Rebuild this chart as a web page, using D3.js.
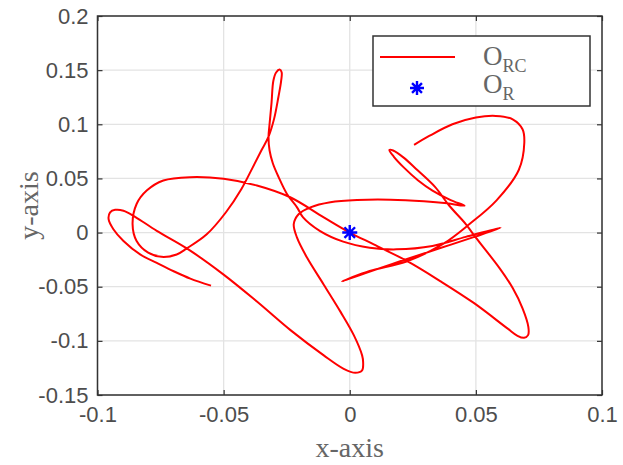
<!DOCTYPE html>
<html>
<head>
<meta charset="utf-8">
<script src="https://cdn.jsdelivr.net/npm/d3@7"></script>
<style>
  body { margin: 0; background: #fff; }
  svg { display: block; }
  .tick text { font-family: "Liberation Sans", Arial, sans-serif; font-size: 22px; fill: #4d4d4d; }
  .lbl { font-family: "Liberation Serif", "Times New Roman", serif; fill: #666; }
</style>
</head>
<body>
<div id="vis-container"></div>
<script>
// trajectory O_RC (x, y in axis units)
var trajX = [-0.0550,-0.0632,-0.0698,-0.0765,-0.0831,-0.0897,-0.0937,-0.0956,-0.0950,-0.0930,-0.0897,-0.0851,-0.0765,-0.0646,-0.0500,-0.0368,-0.0235,-0.0103,-0.0024,0.0022,0.0049,0.0053,
  0.0049,0.0016,-0.0037,-0.0103,-0.0169,-0.0209,-0.0222,-0.0202,-0.0156,-0.0077,0.0029,0.0161,0.0294,0.0386,0.0455,
  0.0400,0.0328,0.0270,0.0215,0.0175,0.0157,0.0172,0.0215,0.0262,0.0338,0.0394,0.0460,0.0500,0.0593,0.0646,0.0685,0.0708,0.0707,0.0691,0.0665,
  0.0625,0.0493,0.0360,0.0228,0.0095,0.0000,-0.0103,-0.0236,-0.0368,-0.0500,-0.0633,-0.0739,-0.0805,-0.0845,-0.0861,-0.0845,-0.0799,-0.0746,-0.0686,-0.0646,-0.0567,-0.0490,
  -0.0430,-0.0385,-0.0350,-0.0322,-0.0300,-0.0283,-0.0272,-0.0270,-0.0278,-0.0292,-0.0303,-0.0310,-0.0318,-0.0322,-0.0318,-0.0305,-0.0282,-0.0249,-0.0209,-0.0185,-0.0119,-0.0026,0.0079,0.0185,0.0328,0.0460,0.0598,
  0.0500,0.0350,0.0200,0.0060,-0.0030,0.0079,0.0225,0.0370,0.0476,0.0582,0.0670,0.0692,0.0685,0.0646,0.0579,0.0500,0.0407,0.0315,0.0255];
var trajY = [-0.0490,-0.0425,-0.0357,-0.0280,-0.0202,-0.0078,0.0031,0.0124,0.0186,0.0210,0.0202,0.0146,0.0016,-0.0146,-0.0388,-0.0637,-0.0901,-0.1134,-0.1258,-0.1295,-0.1273,-0.1196,
  -0.1134,-0.0947,-0.0730,-0.0481,-0.0233,-0.0047,0.0078,0.0171,0.0233,0.0280,0.0301,0.0304,0.0289,0.0270,0.0248,
  0.0300,0.0388,0.0484,0.0600,0.0700,0.0762,0.0758,0.0690,0.0590,0.0422,0.0250,0.0078,-0.0047,-0.0326,-0.0512,-0.0699,-0.0870,-0.0947,-0.0972,-0.0953,
  -0.0885,-0.0652,-0.0450,-0.0264,-0.0109,0.0000,0.0140,0.0326,0.0435,0.0497,0.0512,0.0481,0.0388,0.0264,0.0078,-0.0078,-0.0186,-0.0224,-0.0202,-0.0146,-0.0016,0.0190,
  0.0400,0.0600,0.0760,0.0885,0.1050,0.1250,0.1400,0.1480,0.1506,0.1478,0.1400,0.1200,0.1000,0.0885,0.0760,0.0640,0.0512,0.0357,0.0233,0.0140,0.0016,-0.0084,-0.0140,-0.0155,-0.0124,-0.0040,0.0045,
  -0.0035,-0.0150,-0.0265,-0.0375,-0.0450,-0.0354,-0.0267,-0.0105,0.0081,0.0298,0.0578,0.0830,0.0954,0.1046,0.1077,0.1062,0.1000,0.0892,0.0809];

// reference point O_R
var refX = [0], refY = [0];

var xTicks = [-0.1, -0.05, 0, 0.05, 0.1],
    yTicks = [-0.15, -0.1, -0.05, 0, 0.05, 0.1, 0.15, 0.2];
var xTickLabels = ["-0.1", "-0.05", "0", "0.05", "0.1"],
    yTickLabels = ["-0.15", "-0.1", "-0.05", "0", "0.05", "0.1", "0.15", "0.2"];

var W = 623, H = 465;
var margin = {top: 16, right: 21, bottom: 70, left: 97.5};

var svg = d3.select("#vis-container").append("svg")
    .attr("width", W).attr("height", H);

var x = d3.scaleLinear().domain([-0.1, 0.1]).range([margin.left, W - margin.right]);
var y = d3.scaleLinear().domain([-0.15, 0.2]).range([H - margin.bottom, margin.top]);

// grid
var grid = svg.append("g");
grid.selectAll("line.gx").data(xTicks).enter().append("line")
  .attr("x1", d => x(d)).attr("x2", d => x(d))
  .attr("y1", y.range()[1]).attr("y2", y.range()[0])
  .attr("stroke", "#e3e3e3").attr("stroke-width", 1.3);
grid.selectAll("line.gy").data(yTicks).enter().append("line")
  .attr("y1", d => y(d)).attr("y2", d => y(d))
  .attr("x1", x.range()[0]).attr("x2", x.range()[1])
  .attr("stroke", "#e3e3e3").attr("stroke-width", 1.3);

// axes: labels bottom/left, inward ticks on all four sides
var tickLen = 5;
svg.append("g").attr("transform", "translate(0," + y.range()[0] + ")")
  .call(d3.axisBottom(x).tickValues(xTicks).tickFormat((d, i) => xTickLabels[i]).tickSize(-tickLen).tickPadding(11));
svg.append("g").attr("transform", "translate(" + x.range()[0] + ",0)")
  .call(d3.axisLeft(y).tickValues(yTicks).tickFormat((d, i) => yTickLabels[i]).tickSize(-tickLen).tickPadding(9));
svg.append("g").attr("transform", "translate(0," + y.range()[1] + ")")
  .call(d3.axisTop(x).tickValues(xTicks).tickFormat("").tickSize(-tickLen));
svg.append("g").attr("transform", "translate(" + x.range()[1] + ",0)")
  .call(d3.axisRight(y).tickValues(yTicks).tickFormat("").tickSize(-tickLen));
svg.selectAll(".domain").remove();
svg.selectAll(".tick line").attr("stroke", "#333").attr("stroke-width", 1.2);

// trajectory
var pts = trajX.map((v, i) => [v, trajY[i]]);
var line = d3.line().x(d => x(d[0])).y(d => y(d[1])).curve(d3.curveCatmullRom.alpha(0.5));

svg.append("clipPath").attr("id", "clip").append("rect")
  .attr("x", x.range()[0]).attr("y", y.range()[1])
  .attr("width", x.range()[1] - x.range()[0]).attr("height", y.range()[0] - y.range()[1]);

svg.append("path").datum(pts)
  .attr("clip-path", "url(#clip)")
  .attr("d", line)
  .attr("fill", "none").attr("stroke", "#ff0000").attr("stroke-width", 2);

// star marker
function starPath(cx, cy, r) {
  var p = "";
  for (var k = 0; k < 4; k++) {
    var a = k * Math.PI / 4;
    p += "M" + (cx - r * Math.cos(a)) + "," + (cy - r * Math.sin(a)) + "L" + (cx + r * Math.cos(a)) + "," + (cy + r * Math.sin(a));
  }
  return p;
}
svg.selectAll("path.ref").data(refX).enter().append("path")
  .attr("class", "ref")
  .attr("d", (d, i) => starPath(x(d), y(refY[i]), 7.5))
  .attr("stroke", "#0000ff").attr("stroke-width", 2.4);

// box
svg.append("rect")
  .attr("x", x.range()[0]).attr("y", y.range()[1])
  .attr("width", x.range()[1] - x.range()[0]).attr("height", y.range()[0] - y.range()[1])
  .attr("fill", "none").attr("stroke", "#333").attr("stroke-width", 1.5);

// axis titles
svg.append("text").attr("class", "lbl")
  .attr("x", x(0)).attr("y", 457).attr("text-anchor", "middle")
  .style("font-size", "28px").text("x-axis");
svg.append("text").attr("class", "lbl")
  .attr("transform", "translate(38," + y(0.025) + ") rotate(-90)")
  .attr("text-anchor", "middle")
  .style("font-size", "28px").text("y-axis");

// legend
var leg = svg.append("g");
leg.append("rect").attr("x", 373).attr("y", 36).attr("width", 217).attr("height", 70)
  .attr("fill", "#fff").attr("stroke", "#333").attr("stroke-width", 1.5);
leg.append("line").attr("x1", 380).attr("x2", 455).attr("y1", 57).attr("y2", 57)
  .attr("stroke", "#ff0000").attr("stroke-width", 2);
leg.append("path").attr("d", starPath(417, 88, 7))
  .attr("stroke", "#0000ff").attr("stroke-width", 2.4);

var t1 = leg.append("text").attr("class", "lbl").attr("x", 483).attr("y", 65).style("font-size", "27px");
t1.append("tspan").text("O");
t1.append("tspan").attr("dy", 7).style("font-size", "18px").text("RC");
var t2 = leg.append("text").attr("class", "lbl").attr("x", 483).attr("y", 93).style("font-size", "27px");
t2.append("tspan").text("O");
t2.append("tspan").attr("dy", 7).style("font-size", "18px").text("R");
</script>
</body>
</html>
